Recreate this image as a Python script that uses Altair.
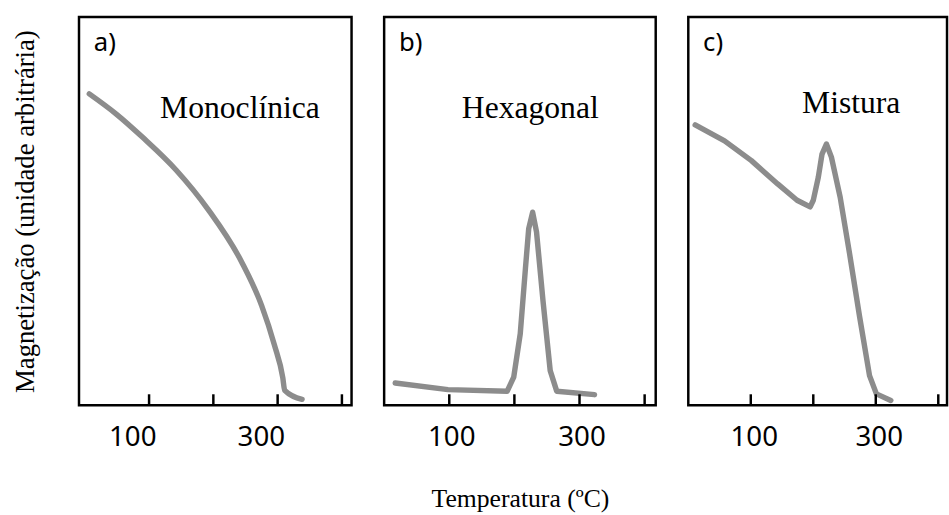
import altair as alt
import pandas as pd

# ---- data ----
panel_letters = ["a)", "b)", "c)"]
panel_names = ["Monoclínica", "Hexagonal", "Mistura"]
tick_values = [100, 200, 300, 400]

a_temp = [7, 49, 90, 142, 192, 244, 275, 295, 308, 311, 338]
a_mag = [80.2, 75.0, 69.0, 60.6, 50.4, 36.9, 25.7, 15.5, 7.1, 3.8, 1.5]

b_temp = [17, 98, 189, 199, 209, 217, 222, 228, 234, 244, 255, 265, 323]
b_mag = [5.7, 4.0, 3.6, 7.2, 18.4, 35.3, 45.5, 49.7, 44.6, 26.8, 8.9, 3.6, 2.7]

c_temp = [11, 58, 101, 143, 174, 195, 200, 208, 214, 221, 229, 243, 258, 274, 290, 301, 324]
c_mag = [72.2, 68.1, 63.0, 57.0, 52.8, 51.1, 52.8, 58.7, 64.7, 67.3, 63.9, 53.6, 39.1, 22.9, 7.6, 2.9, 1.2]

H = 393
LINE_COLOR = "#8c8c8c"
label_expr = "datum.value == 100 || datum.value == 300 ? datum.label : ''"


def panel(temp, mag, domain, width, label_dx, letter, name, name_x, name_y,
          interp, xtitle=None, ytitle=None):
    df = pd.DataFrame({"T": temp, "M": mag})
    axis_kw = dict(values=tick_values, labelExpr=label_expr, ticks=False,
                   domain=False, grid=False, labelFont="Noto Sans",
                   labelFontSize=28, labelColor="black", labelPadding=19,
                   labelOffset=label_dx, labelOverlap=False, labelFlush=False)
    if xtitle:
        axis_kw.update(title=xtitle, titleFont="Liberation Serif",
                       titleFontSize=26, titleFontWeight="normal",
                       titleColor="black", titlePadding=35)
    else:
        axis_kw.update(title="")
    x = alt.X("T:Q", scale=alt.Scale(domain=domain, nice=False, zero=False),
              axis=alt.Axis(**axis_kw))
    if ytitle:
        y = alt.Y("M:Q", scale=alt.Scale(domain=[0, 100], nice=False),
                  axis=alt.Axis(title=ytitle, labels=False, ticks=False,
                                domain=False, grid=False,
                                titleFont="Liberation Serif", titleFontSize=27,
                                titleFontWeight="normal", titleColor="black",
                                titlePadding=40))
    else:
        y = alt.Y("M:Q", scale=alt.Scale(domain=[0, 100], nice=False), axis=None)

    line = alt.Chart(df).mark_line(color=LINE_COLOR, strokeWidth=5.5,
                                   strokeCap="round", strokeJoin="round",
                                   interpolate=interp).encode(x=x, y=y)
    ticks = alt.Chart(pd.DataFrame({"t": tick_values})).mark_rule(
        color="black", strokeWidth=2.5).encode(
        x="t:Q", y=alt.value(H), y2=alt.value(H - 11))
    let = alt.Chart(pd.DataFrame({"s": [letter]})).mark_text(
        font="Noto Sans", fontSize=26, align="left", baseline="middle",
        color="black").encode(text="s:N", x=alt.value(15), y=alt.value(26))
    nm = alt.Chart(pd.DataFrame({"s": [name]})).mark_text(
        font="Liberation Serif", fontSize=32, align="center",
        baseline="alphabetic", color="black").encode(
        text="s:N", x=alt.value(name_x), y=alt.value(name_y))
    return alt.layer(line, ticks, let, nm).properties(width=width, height=H)


pa = panel(a_temp, a_mag, [-9, 415], 276, -17, panel_letters[0], panel_names[0],
           163, 102, "monotone", ytitle="Magnetização (unidade arbitrária)")
pb = panel(b_temp, b_mag, [0, 417], 275, 2, panel_letters[1], panel_names[1],
           148, 102, "linear", xtitle="Temperatura (ºC)")
pc = panel(c_temp, c_mag, [0, 414], 262, 3, panel_letters[2], panel_names[2],
           165, 97, "linear")

chart = alt.hconcat(pa, pb, pc, spacing=29).properties(
    padding={"left": 10, "top": 12, "right": 0, "bottom": 0},
    background="white",
).configure_view(stroke="black", strokeWidth=2.5)

chart.save("out.html", embed_options={"renderer": "svg", "actions": False})
